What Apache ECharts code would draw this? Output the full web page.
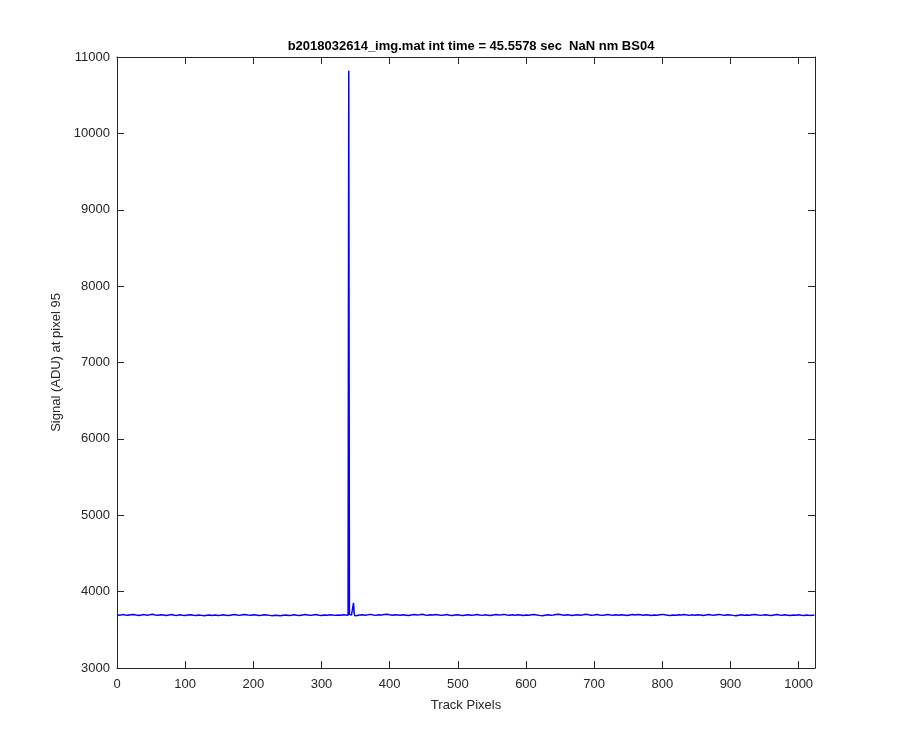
<!DOCTYPE html>
<html>
<head>
<meta charset="utf-8">
<script src="https://cdn.jsdelivr.net/npm/echarts@6/dist/echarts.min.js"></script>
<style>html,body{margin:0;padding:0;background:#fff}#c{width:900px;height:750px}</style>
</head>
<body>
<div id="c"></div>
<script>
// Baseline left of the spike: pixels 0..332, every 4 pixels
const leftStart = 0, leftStep = 4;
const leftSignal = [
3696,3692,3699,3694,3690,3697,3701,3693,3688,3695,3699,3692,3696,3703,3694,3690,
3697,3693,3688,3695,3700,3692,3689,3696,3691,3687,3694,3698,3690,3686,3693,3689,
3684,3691,3695,3688,3693,3686,3690,3697,3692,3688,3695,3701,3693,3689,3696,3700,
3694,3690,3697,3693,3687,3691,3698,3694,3689,3685,3692,3688,3683,3690,3694,3687,
3691,3696,3690,3686,3693,3699,3694,3689,3695,3700,3692,3688,3694,3690,3697,3693,
3689,3695,3692,3698
];
// Spike region, every pixel
const spikePixels = [336,338,339,340,341,342,344,345,346,347,348,349,350];
const spikeSignal = [3694,3699,3690,10820,3702,3680,3693,3688,3696,3852,3712,3684,3690];
// Baseline right of the spike: pixels 352..1020, every 4 pixels
const rightStart = 352, rightStep = 4;
const rightSignal = [
3688,3694,3698,3691,3696,3702,3694,3689,3697,3693,3699,3705,3696,3691,3698,3694,
3690,3696,3692,3687,3694,3699,3693,3697,3703,3695,3690,3697,3693,3699,3694,3689,
3695,3700,3692,3688,3694,3698,3691,3686,3693,3697,3690,3695,3701,3694,3689,3696,
3692,3688,3695,3699,3693,3697,3702,3695,3690,3696,3692,3698,3693,3687,3694,3690,
3696,3701,3694,3689,3685,3692,3697,3691,3695,3700,3704,3696,3691,3697,3693,3688,
3694,3698,3692,3697,3703,3696,3691,3694,3699,3693,3689,3695,3700,3694,3690,3696,
3692,3698,3693,3687,3694,3699,3695,3700,3696,3690,3697,3693,3688,3695,3691,3697,
3702,3696,3691,3688,3694,3690,3697,3693,3699,3694,3689,3696,3692,3698,3693,3688,
3695,3700,3694,3690,3697,3702,3695,3691,3698,3694,3689,3685,3692,3697,3691,3695,
3690,3696,3701,3694,3689,3693,3698,3692,3688,3694,3699,3693,3690,3696,3692,3688,
3694,3690,3696,3691,3687,3693,3689,3692
];
const endPixel = 1023, endSignal = 3690;

const xTicks = [0,100,200,300,400,500,600,700,800,900,1000];
const yTicks = [3000,4000,5000,6000,7000,8000,9000,10000,11000];
const titleText = 'b2018032614_img.mat int time = 45.5578 sec  NaN nm BS04';
const xLabel = 'Track Pixels';
const yLabel = 'Signal (ADU) at pixel 95';

const data = [];
leftSignal.forEach((v,i)=>data.push([leftStart+i*leftStep, v]));
spikeSignal.forEach((v,i)=>data.push([spikePixels[i], v]));
rightSignal.forEach((v,i)=>data.push([rightStart+i*rightStep, v]));
data.push([endPixel, endSignal]);

const axisColor = '#262626';
const font = 'Liberation Sans, Arial, Helvetica, sans-serif';
const chart = echarts.init(document.getElementById('c'), null, {renderer:'canvas'});
const baseX = {
  type:'value', min:0, max:1024, interval:100,
  axisLine:{show:true, onZero:false, lineStyle:{color:axisColor, width:1}},
  axisTick:{show:true, inside:true, length:7, lineStyle:{color:axisColor}},
  splitLine:{show:false}
};
const baseY = {
  type:'value', min:3000, max:11000, interval:1000,
  axisLine:{show:true, onZero:false, lineStyle:{color:axisColor, width:1}},
  axisTick:{show:true, inside:true, length:7, lineStyle:{color:axisColor}},
  splitLine:{show:false}
};
chart.setOption({
  backgroundColor:'#ffffff',
  animation:false,
  title:{text:titleText, left:466, textAlign:'center', top:35,
    textStyle:{fontFamily:font, fontSize:13, fontWeight:'bold', color:'#000'}},
  grid:{left:117, right:85, top:57, bottom:82, containLabel:false},
  xAxis:[
    Object.assign({}, baseX, {position:'bottom',
      name:xLabel, nameLocation:'middle', nameGap:31,
      nameTextStyle:{fontFamily:font, fontSize:13, color:axisColor},
      axisLabel:{show:true, margin:10, color:axisColor, fontFamily:font, fontSize:13,
        formatter:v=>xTicks.includes(v)?String(v):''}}),
    Object.assign({}, baseX, {position:'top', axisLabel:{show:false}})
  ],
  yAxis:[
    Object.assign({}, baseY, {position:'left',
      name:yLabel, nameLocation:'middle', nameGap:53,
      nameTextStyle:{fontFamily:font, fontSize:13, color:axisColor},
      axisLabel:{show:true, margin:7, color:axisColor, fontFamily:font, fontSize:13,
        formatter:v=>yTicks.includes(v)?String(v):''}}),
    Object.assign({}, baseY, {position:'right', axisLabel:{show:false}})
  ],
  series:[{
    type:'line', data:data, showSymbol:false, symbol:'none',
    lineStyle:{color:'#0000ff', width:1.5}, xAxisIndex:0, yAxisIndex:0
  }]
});
</script>
</body>
</html>
